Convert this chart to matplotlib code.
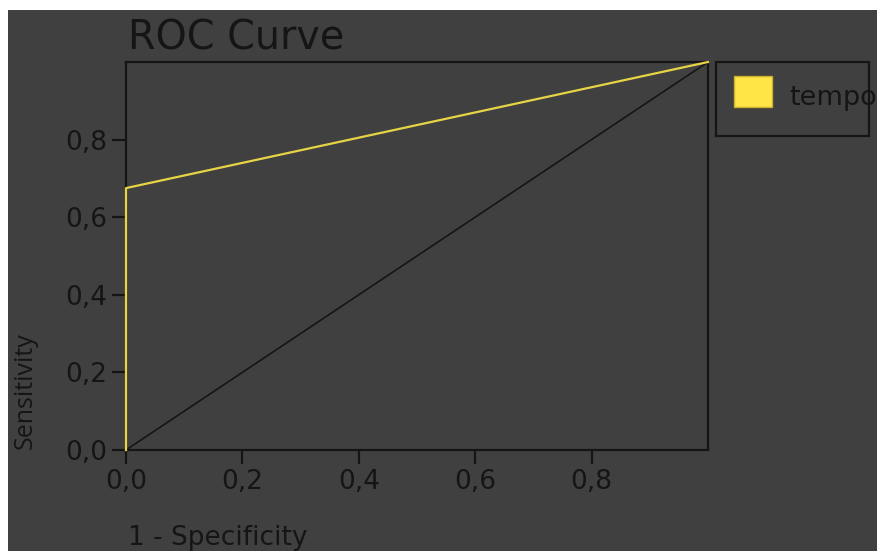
import matplotlib
matplotlib.use("Agg")
import matplotlib.pyplot as plt
from matplotlib.patches import Rectangle

# ROC curve points
fpr = [0.0, 0.0, 1.0]
tpr = [0.0, 0.675, 1.0]
series_name = "tempo"
ticks = [0.0, 0.2, 0.4, 0.6, 0.8]
tick_labels = ["0,0", "0,2", "0,4", "0,6", "0,8"]

BG = "#404040"
INK = "#151515"
YELLOW = "#e6d346"

W, H = 877, 551
fig = plt.figure(figsize=(W / 100, H / 100), dpi=100)
fig.patch.set_facecolor("white")
fig.add_artist(Rectangle((8 / W, 0), 1, (H - 10) / H, transform=fig.transFigure,
                         facecolor=BG, edgecolor="none", zorder=-10))

ax = fig.add_axes([126 / W, (H - 450) / H, 582 / W, 388 / H])
ax.set_facecolor(BG)

ax.plot([0, 1], [0, 1], color=INK, lw=1.2, zorder=2)
ax.plot(fpr, tpr, color=YELLOW, lw=1.6, zorder=3, clip_on=False)

ax.set_xlim(0, 1)
ax.set_ylim(0, 1)
ax.set_xticks(ticks)
ax.set_xticklabels(tick_labels)
ax.set_yticks(ticks)
ax.set_yticklabels(tick_labels)
ax.tick_params(colors=INK, labelcolor=INK, labelsize=19, length=10, width=1.6,
               pad=3.5)

for s in ax.spines.values():
    s.set_color(INK)
    s.set_linewidth(1.6)

fig.text(128 / W, (H - 50) / H, "ROC Curve", fontsize=28.5, color=INK,
         ha="left", va="baseline")
fig.text(128 / W, (H - 545) / H, "1 - Specificity", fontsize=19, color=INK,
         ha="left", va="baseline")
fig.text(38 / W, (H - 449) / H, "Sensitivity", fontsize=18, color=INK,
         family="Open Sans", rotation=90, ha="right", va="bottom")

# legend box, partly cut by the figure edge
fig.add_artist(Rectangle((716 / W, (H - 136) / H), 153 / W, 74 / H,
                         transform=fig.transFigure, facecolor=BG,
                         edgecolor=INK, lw=1.6))
fig.add_artist(Rectangle((734 / W, (H - 107) / H), 38 / W, 31 / H,
                         transform=fig.transFigure, facecolor="#ffe545",
                         edgecolor="#c8b030", lw=1))
fig.text(789 / W, (H - 105) / H, series_name, fontsize=19.5, color=INK,
         ha="left", va="baseline")

fig.savefig("out.png", dpi=100, facecolor=fig.get_facecolor())
